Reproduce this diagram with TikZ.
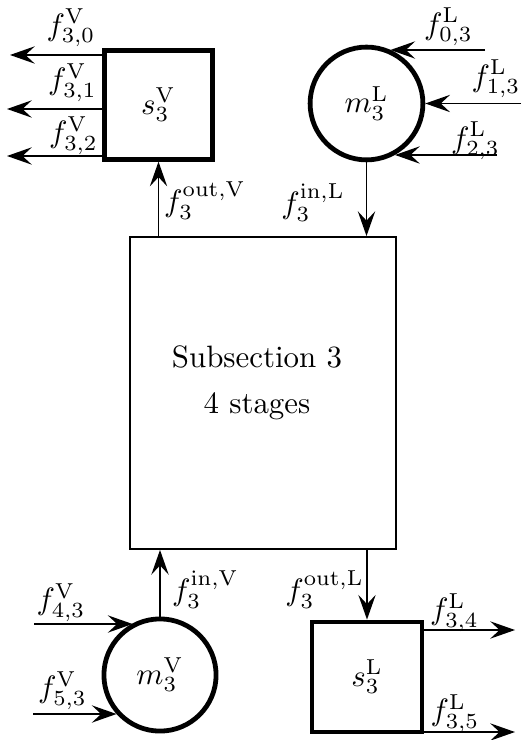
\documentclass[tikz,border=0pt]{standalone}
\usetikzlibrary{arrows.meta}
\begin{document}
\begin{tikzpicture}[x=0.3236pt,y=-0.3236pt,
  arr/.style={line width=0.6pt,-{Stealth[length=8pt,width=5.6pt,inset=3pt]}},
  thickbox/.style={draw,line width=1.55pt,rectangle,inner sep=0pt},
  thickcirc/.style={draw,line width=1.55pt,circle,inner sep=0pt},
  lab/.style={inner sep=0pt}]
\useasboundingbox (0,0) rectangle (521,740);
% main block
\node[draw,line width=0.6pt,minimum width=86.08pt,minimum height=100.96pt,inner sep=0pt] (main) at (263,393) {};
\node[align=center,inner sep=0pt] (maintext) at (257,382.5) {Subsection 3\\[2.9pt]4 stages};
% unit nodes
\node[thickbox,minimum size=35.1pt] (s3V) at (158.5,105) {$s_3^{\mathrm{V}}$};
\node[thickcirc,minimum size=36.5pt] (m3L) at (366.5,103.5) {$m_3^{\mathrm{L}}$};
\node[thickcirc,minimum size=36.3pt] (m3V) at (160,675) {$m_3^{\mathrm{V}}$};
\node[thickbox,minimum size=35.6pt] (s3L) at (367,677) {$s_3^{\mathrm{L}}$};
% free ends
\coordinate (o0) at (10,55);
\coordinate (o1) at (7,109);
\coordinate (o2) at (7,156);
\coordinate (i0) at (485,50);
\coordinate (i1) at (521,103.5);
\coordinate (i2) at (497,155);
\coordinate (j0) at (34,624);
\coordinate (j1) at (33,714);
\coordinate (k0) at (515,630);
\coordinate (k1) at (515,732);
% connectors
\draw[arr] (s3V.west |- o0) -- (o0);
\draw[arr] (s3V.west |- o1) -- (o1);
\draw[arr] (s3V.west |- o2) -- (o2);
\draw[arr] (s3V.south |- main.north) -- (s3V.south);
\draw[arr] (i0) -- (i0 -| m3L.66.1);
\draw[arr] (i1) -- (m3L.east);
\draw[arr] (i2) -- (i2 -| m3L.-61.7);
\draw[arr] (m3L.south) -- (m3L.south |- main.north);
\draw[arr] (m3V.north) -- (m3V.north |- main.south);
\draw[arr] (j0) -- (j0 -| m3V.118.4);
\draw[arr] (j1) -- (j1 -| m3V.222.3);
\draw[arr] (s3L.north |- main.south) -- (s3L.north);
\draw[arr] (s3L.east |- k0) -- (k0);
\draw[arr] (s3L.east |- k1) -- (k1);
% labels
\node[lab] (l30) at (71,28) {$f_{3,0}^{\mathrm{V}}$};
\node[lab] (l31) at (72.5,82.5) {$f_{3,1}^{\mathrm{V}}$};
\node[lab] (l32) at (73.5,135.5) {$f_{3,2}^{\mathrm{V}}$};
\node[lab] (loutV) at (205,201) {$f_{3}^{\mathrm{out},\mathrm{V}}$};
\node[lab] (linL) at (313,203) {$f_{3}^{\mathrm{in},\mathrm{L}}$};
\node[lab] (l03) at (448.5,27) {$f_{0,3}^{\mathrm{L}}$};
\node[lab] (l13) at (496,79) {$f_{1,3}^{\mathrm{L}}$};
\node[lab] (l23) at (475.5,141) {$f_{2,3}^{\mathrm{L}}$};
\node[lab] (linV) at (205.5,590) {$f_{3}^{\mathrm{in},\mathrm{V}}$};
\node[lab] (loutL) at (324.5,590) {$f_{3}^{\mathrm{out},\mathrm{L}}$};
\node[lab] (l43) at (61,602.5) {$f_{4,3}^{\mathrm{V}}$};
\node[lab] (l53) at (62.5,690.5) {$f_{5,3}^{\mathrm{V}}$};
\node[lab] (l34) at (454.5,612.5) {$f_{3,4}^{\mathrm{L}}$};
\node[lab] (l35) at (455,713.5) {$f_{3,5}^{\mathrm{L}}$};
\end{tikzpicture}
\end{document}
